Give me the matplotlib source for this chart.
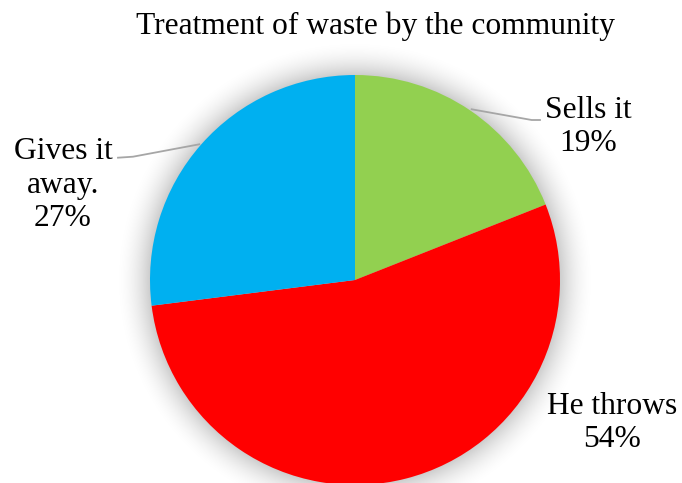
import numpy as np
import matplotlib
matplotlib.use("Agg")
import matplotlib.pyplot as plt
from matplotlib import font_manager

labels = ["Sells it", "He throws", "Gives it\naway."]
values = [19, 54, 27]
colors = ["#92D050", "#FF0000", "#00B0F0"]

W, H = 682, 483
cx, cy, R = 355, 203, 205

installed = {f.name for f in font_manager.fontManager.ttflist}
serif = next((n for n in ["Liberation Serif", "Times New Roman", "Tinos", "DejaVu Serif"]
              if n in installed), "serif")

fig = plt.figure(figsize=(W / 100, H / 100), dpi=100)
ax = fig.add_axes([0, 0, 1, 1])

# soft glow behind the pie
yy, xx = np.mgrid[0:H, 0:W]
d = np.hypot(xx + 0.5 - cx, yy + 0.5 - cy)
glow = np.clip((R + 36 - d) / 36, 0, 1) ** 2 * 0.2
img = np.zeros((H, W, 4))
img[..., 3] = glow
ax.imshow(img, extent=(0, W, 0, H), origin="lower", zorder=0, interpolation="bilinear")

wedges, _ = ax.pie(values, colors=colors, startangle=90, counterclock=False,
                   center=(cx, cy), radius=R, frame=True,
                   wedgeprops=dict(linewidth=0))
for w in wedges:
    w.set_zorder(2)
ax.set_xlim(0, W)
ax.set_ylim(0, H)
ax.set_aspect("equal")
ax.axis("off")

font = dict(family=serif, fontsize=22.7, color="black",
            ha="center", va="center", linespacing=1.2)

# label positions (pixels from top-left)
label_pos = [(588, 127), (612, 423), (63, 185)]
for (lx, ly), lab, v in zip(label_pos, labels, values):
    ax.text(lx, H - ly, f"{lab}\n{v}%", zorder=3, **font)

# leader lines
ax.plot([471.7, 531.7, 540], [H - 109.3, H - 120, H - 120], color="#A6A6A6", lw=1.3, zorder=3)
ax.plot([199.3, 133, 118], [H - 144.3, H - 156.7, H - 157.7], color="#A6A6A6", lw=1.3, zorder=3)

ax.text(375, H - 26, "Treatment of waste by the community", zorder=3, **font)

fig.savefig("out.png", dpi=100)
